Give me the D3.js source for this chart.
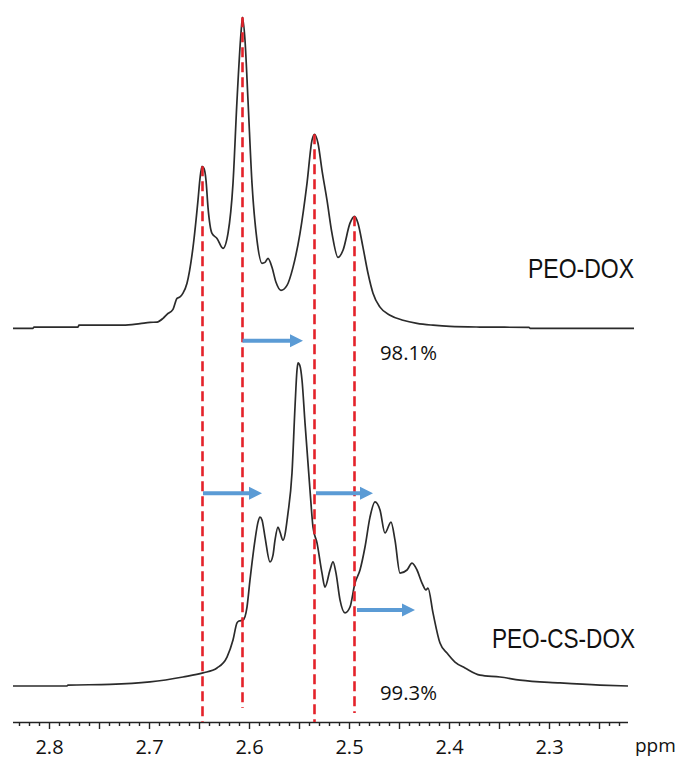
<!DOCTYPE html>
<html>
<head>
<meta charset="utf-8">
<script src="https://cdn.jsdelivr.net/npm/d3@7"></script>
<style>
  html, body { margin: 0; padding: 0; background: #fff; }
  svg { display: block; }
</style>
</head>
<body>
<svg id="chart" width="678" height="762"></svg>
<script>
// 1H NMR spectra (ppm, relative intensity; tallest PEO-DOX peak = 100)
const peoDoxPpm = [2.8365, 2.8165, 2.8155, 2.7715, 2.7705, 2.7265, 2.7095, 2.6995, 2.6925, 2.6865,
  2.6825, 2.6765, 2.6725, 2.6695, 2.6665, 2.6625, 2.6565, 2.6515, 2.6495, 2.6475,
  2.6455, 2.6435, 2.6415, 2.6375, 2.6325, 2.6265, 2.6215, 2.6165, 2.6125, 2.6085,
  2.607, 2.6045, 2.6015, 2.5975, 2.5925, 2.5875, 2.5845, 2.5815, 2.5775, 2.5735,
  2.5685, 2.5625, 2.5565, 2.5495, 2.5425, 2.5375, 2.535, 2.5315, 2.5275, 2.5225,
  2.5175, 2.5115, 2.5065, 2.4995, 2.495, 2.4915, 2.4865, 2.4815, 2.4765, 2.4695,
  2.4595, 2.4465, 2.4325, 2.4165, 2.3995, 2.3695, 2.3205, 2.3195, 2.2155];
const peoDoxInt = [0.0, 0.0, 0.4, 0.4, 1.0, 1.0, 1.5, 1.9, 2.0, 3.2,
  4.5, 6.1, 9.6, 10.1, 11.3, 14.5, 26.0, 41.2, 48.2, 52.1,
  51.4, 47.6, 38.9, 30.5, 28.9, 25.7, 30.5, 46.6, 73.3, 94.9,
  100, 92.6, 73.3, 46.6, 28.3, 20.9, 21.2, 22.5, 19.6, 14.8,
  12.2, 13.8, 19.6, 30.5, 46.6, 60.5, 62.4, 59.5, 50.8, 41.2,
  30.5, 22.8, 25.1, 33.8, 36.0, 33.8, 26.0, 17.7, 11.3, 6.8,
  4.2, 2.6, 1.6, 1.0, 0.6, 0.4, 0.3, 0.0, 0.0];

const peoCsDoxPpm = [2.8365, 2.7825, 2.7815, 2.7395, 2.6995, 2.6665, 2.6465, 2.6325, 2.6225, 2.6165,
  2.6125, 2.6105, 2.6065, 2.6025, 2.5995, 2.5945, 2.5915, 2.5895, 2.5875, 2.5845,
  2.5795, 2.5765, 2.5745, 2.5715, 2.5695, 2.5665, 2.5615, 2.5575, 2.5545, 2.5525,
  2.5515, 2.5495, 2.5475, 2.5445, 2.5395, 2.5365, 2.5325, 2.5275, 2.5245, 2.5195,
  2.5165, 2.5135, 2.5095, 2.5045, 2.4995, 2.4945, 2.4895, 2.4845, 2.4795, 2.4745,
  2.4695, 2.4645, 2.4585, 2.4545, 2.4495, 2.4425, 2.4375, 2.4325, 2.4275, 2.4235,
  2.4215, 2.4165, 2.4095, 2.4025, 2.3945, 2.3845, 2.3695, 2.3495, 2.3295, 2.2895,
  2.2495, 2.2215];
const peoCsDoxInt = [0.0, 0.0, 0.3, 0.5, 1.3, 2.9, 4.2, 5.8, 9.3, 14.8,
  20.3, 20.9, 21.2, 25.4, 34.1, 46.9, 52.7, 54.3, 53.4, 47.9,
  39.9, 42.1, 46.9, 51.1, 49.5, 46.9, 55.6, 68.5, 89.7, 101.6,
  103.9, 102.9, 98.4, 84.6, 63.0, 51.1, 46.0, 36.3, 31.8, 37.3,
  39.9, 36.3, 27.7, 23.5, 25.4, 33.1, 37.3, 44.7, 54.3, 59.2,
  56.6, 49.2, 52.7, 46.9, 36.3, 37.3, 39.5, 37.3, 33.1, 30.9,
  31.5, 23.5, 13.8, 10.6, 7.7, 5.8, 3.5, 2.9, 1.9, 1.0,
  0.3, 0.0];

// Axis: labelled every 0.1 ppm, longer ticks every 0.05, minor every 0.01
const tickLabels = ["2.8", "2.7", "2.6", "2.5", "2.4", "2.3"];
const axisExtent = [2.8365, 2.2215];

// Reference positions of the PEO-DOX multiplet lines (ppm)
const refLines = [2.647, 2.607, 2.535, 2.495];
// Lower end of each reference line (intensity units below the PEO-CS-DOX baseline)
const refLineEnds = [-11.6, -7.1, -11.6, -8.7];

// Shift arrows: from ppm, to ppm, height on the PEO-CS-DOX intensity scale
const arrowFrom = [2.607, 2.6465, 2.5335, 2.4925];
const arrowTo   = [2.5465, 2.5875, 2.4765, 2.4345];
const arrowLevel = [111, 62, 62, 24.4];

const percentLabels = ["98.1%", "99.3%"];
const spectrumNames = ["PEO-DOX", "PEO-CS-DOX"];

// ---------------------------------------------------------------------------
const svg = d3.select("#chart");

const x = d3.scaleLinear().domain([2.85, 2.20]).range([-0.5, 649.5]);
const yUnit = 3.11;                       // px per intensity unit
const topBase = 328.3, lowBase = 686;     // baselines of the stacked traces
const yTop = d3.scaleLinear().domain([0, 100]).range([topBase, topBase - 100 * yUnit]);
const yLow = d3.scaleLinear().domain([0, 100]).range([lowBase, lowBase - 100 * yUnit]);

const line = d3.line().curve(d3.curveMonotoneX);

const topPts = peoDoxPpm.map((p, i) => [x(p), yTop(peoDoxInt[i])]);
const lowPts = peoCsDoxPpm.map((p, i) => [x(p), yLow(peoCsDoxInt[i])]);

svg.append("path").attr("d", line(topPts))
  .attr("fill", "none").attr("stroke", "#2b2b2b").attr("stroke-width", 1.7)
  .attr("stroke-linejoin", "round");
svg.append("path").attr("d", line(lowPts))
  .attr("fill", "none").attr("stroke", "#2b2b2b").attr("stroke-width", 1.7)
  .attr("stroke-linejoin", "round");

// Axis
const axisY = 722.5;
const g = svg.append("g").attr("transform", `translate(0,${axisY})`);
g.append("line")
  .attr("x1", x(axisExtent[0])).attr("x2", x(axisExtent[1]))
  .attr("stroke", "#222").attr("stroke-width", 1.6);
const minorTicks = d3.range(283, 222, -1).map(v => v / 100);
g.selectAll("line.tick").data(minorTicks).enter().append("line")
  .attr("class", "tick")
  .attr("x1", d => x(d)).attr("x2", d => x(d))
  .attr("y1", 0)
  .attr("y2", d => (Math.round(d * 100) % 5 === 0 ? 6.5 : 3.5))
  .attr("stroke", "#222").attr("stroke-width", 1.4);
g.selectAll("text.lab").data(tickLabels).enter().append("text")
  .attr("class", "lab")
  .attr("x", d => x(+d)).attr("y", 31.5)
  .attr("text-anchor", "middle")
  .attr("font-family", "'Open Sans', 'DejaVu Sans', sans-serif")
  .attr("font-size", 20).attr("fill", "#111")
  .text(d => d);
svg.append("text")
  .attr("x", 635).attr("y", 752)
  .attr("font-family", "'Open Sans', 'DejaVu Sans', sans-serif")
  .attr("font-size", 19).attr("fill", "#111")
  .text("ppm");

// Reference lines, from each PEO-DOX peak top down towards the axis
function topIntensityAt(p) {
  let best = 0;
  peoDoxPpm.forEach((q, i) => { if (Math.abs(q - p) < Math.abs(peoDoxPpm[best] - p)) best = i; });
  return peoDoxInt[best];
}
svg.selectAll("line.ref").data(refLines).enter().append("line")
  .attr("class", "ref")
  .attr("x1", d => x(d)).attr("x2", d => x(d))
  .attr("y1", d => yTop(topIntensityAt(d)))
  .attr("y2", (d, i) => yLow(refLineEnds[i]))
  .attr("stroke", "#e4222a").attr("stroke-width", 2.6)
  .attr("stroke-dasharray", "10,5");

// Shift arrows
const arrowColor = "#5b9bd5";
arrowFrom.forEach((f, i) => {
  const x0 = x(f), x1 = x(arrowTo[i]), yy = yLow(arrowLevel[i]);
  const head = 13, half = 6.5;
  svg.append("line")
    .attr("x1", x0).attr("x2", x1 - head + 1).attr("y1", yy).attr("y2", yy)
    .attr("stroke", arrowColor).attr("stroke-width", 4);
  svg.append("path")
    .attr("d", `M${x1},${yy} L${x1 - head},${yy - half} L${x1 - head},${yy + half} Z`)
    .attr("fill", arrowColor);
});

// Labels
const labFont = "'Liberation Sans Narrow', 'Arial Narrow', 'Liberation Sans', Arial, sans-serif";
svg.append("text").attr("x", 528).attr("y", 278)
  .attr("font-family", labFont).attr("font-size", 28).attr("fill", "#111")
  .attr("textLength", 106).attr("lengthAdjust", "spacingAndGlyphs")
  .text(spectrumNames[0]);
svg.append("text").attr("x", 492).attr("y", 648)
  .attr("font-family", labFont).attr("font-size", 28).attr("fill", "#111")
  .attr("textLength", 143).attr("lengthAdjust", "spacingAndGlyphs")
  .text(spectrumNames[1]);

svg.append("text").attr("x", 380).attr("y", 360)
  .attr("font-family", "'Open Sans', 'DejaVu Sans', sans-serif")
  .attr("font-size", 20).attr("fill", "#111")
  .attr("textLength", 57).attr("lengthAdjust", "spacingAndGlyphs")
  .text(percentLabels[0]);
svg.append("text").attr("x", 380).attr("y", 700)
  .attr("font-family", "'Open Sans', 'DejaVu Sans', sans-serif")
  .attr("font-size", 20).attr("fill", "#111")
  .attr("textLength", 57).attr("lengthAdjust", "spacingAndGlyphs")
  .text(percentLabels[1]);
</script>
</body>
</html>
